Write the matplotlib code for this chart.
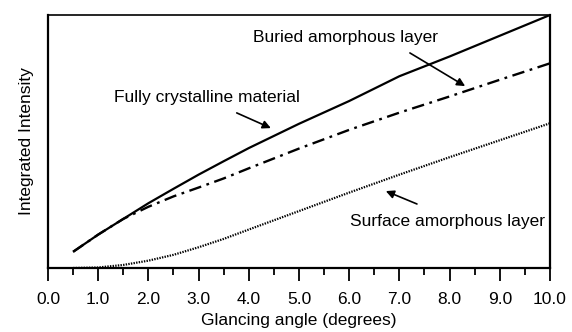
import matplotlib
matplotlib.use('Agg')
import matplotlib.pyplot as plt
import numpy as np

plt.rcParams['font.family'] = ['Liberation Sans', 'DejaVu Sans']
plt.rcParams['lines.scale_dashes'] = False

# Glancing angle (degrees)
angle = [0.5, 1.0, 1.5, 2.0, 2.5, 3.0, 3.5, 4.0, 5.0, 6.0, 7.0, 8.0, 9.0, 10.0]

# Integrated intensity (arbitrary units)
crystalline = [6.4, 13.2, 19.4, 25.6, 31.3, 36.9, 42.2, 47.4, 57.0, 66.0, 75.8, 83.6, 91.8, 100.0]
buried = [6.4, 13.2, 19.4, 24.2, 28.3, 31.8, 35.4, 39.4, 47.2, 54.6, 61.4, 67.8, 74.4, 80.9]
surface = [0.0, 0.2, 1.2, 2.9, 5.2, 8.2, 11.5, 15.2, 22.5, 29.8, 36.9, 43.8, 50.5, 57.2]

xticks = np.arange(0, 11, 1)
xtick_labels = ['%.1f' % v for v in xticks]

fig = plt.figure(figsize=(5.72, 3.32), dpi=100)
ax = fig.add_axes([0.0839, 0.1928, 0.8776, 0.762])

ax.plot(angle, crystalline, color='black', lw=1.6, solid_capstyle='butt')
ax.plot(angle, buried, color='black', lw=1.7, linestyle=(0, (9, 4, 2, 4)))
ax.plot(angle, surface, color='black', lw=1.6, linestyle=(0, (1, 0.9)))

ax.set_xlim(0, 10)
ax.set_ylim(0, 100)
ax.set_xticks(xticks)
ax.set_xticklabels(xtick_labels)
ax.set_xticks(np.arange(0.5, 10, 1), minor=True)
ax.set_yticks([])
ax.tick_params(axis='x', which='major', direction='out', length=9.5, width=1.3,
               pad=8, labelsize=12.5)
ax.tick_params(axis='x', which='minor', direction='out', length=5, width=1.3)

for side in ['left', 'bottom', 'right']:
    ax.spines[side].set_linewidth(1.6)
ax.spines['top'].set_linewidth(1.2)

ax.set_xlabel('Glancing angle (degrees)', fontsize=12.5, labelpad=4)
ax.set_ylabel('Integrated Intensity', fontsize=12.5, labelpad=10)

arrow = dict(arrowstyle='-|>', color='black', lw=1.2, mutation_scale=12,
             shrinkA=0, shrinkB=0)
ax.annotate('', xy=(8.31, 71.9), xytext=(7.21, 85.0), arrowprops=arrow)
ax.text(5.92, 91.3, 'Buried amorphous layer', ha='center', va='center', fontsize=12.5)

ax.annotate('', xy=(4.44, 55.3), xytext=(3.76, 61.3), arrowprops=arrow)
ax.text(3.17, 67.2, 'Fully crystalline material', ha='center', va='center', fontsize=12.5)

ax.annotate('', xy=(6.73, 30.4), xytext=(7.35, 25.3), arrowprops=arrow)
ax.text(7.96, 18.2, 'Surface amorphous layer', ha='center', va='center', fontsize=12.5)

fig.savefig('out.png', dpi=100)
